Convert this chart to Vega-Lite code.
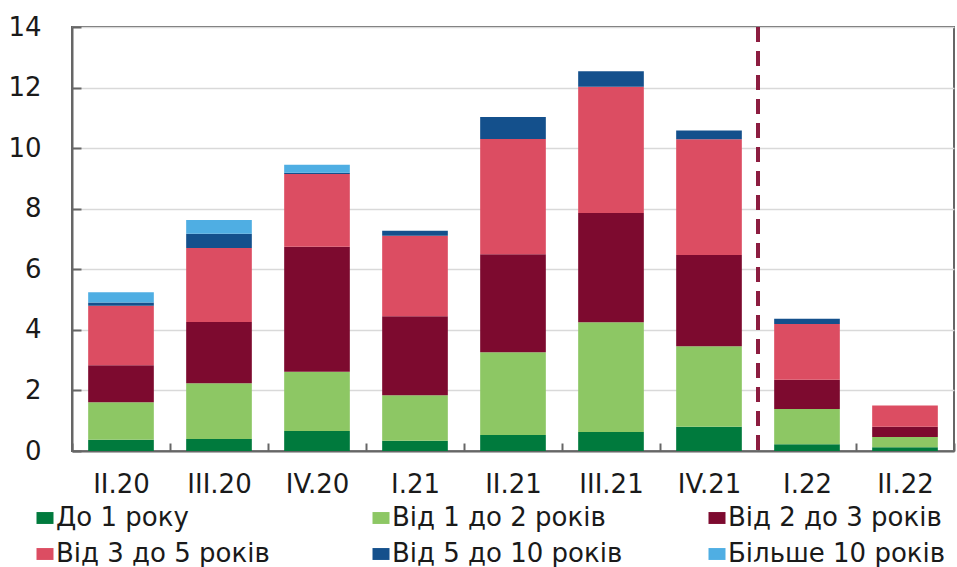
{
  "$schema": "https://vega.github.io/schema/vega-lite/v6.json",
  "width": 882,
  "height": 424,
  "autosize": {"type": "none"},
  "padding": {"left": 72, "top": 27, "right": 3, "bottom": 116},
  "background": "white",
  "config": {
    "font": "DejaVu Sans",
    "view": {"stroke": "#666666", "strokeWidth": 2},
    "axis": {
      "domainColor": "#666666",
      "domainWidth": 2,
      "tickColor": "#666666",
      "tickWidth": 2,
      "labelFont": "DejaVu Sans",
      "labelFontSize": 26,
      "labelColor": "#1a1a1a",
      "title": null
    }
  },
  "data": {
    "values": [
      {"q": "II.20", "s": "До 1 року", "k": 1, "v": 0.37},
      {"q": "II.20", "s": "Від 1 до 2 років", "k": 2, "v": 1.24},
      {"q": "II.20", "s": "Від 2 до 3 років", "k": 3, "v": 1.22},
      {"q": "II.20", "s": "Від 3 до 5 років", "k": 4, "v": 1.97},
      {"q": "II.20", "s": "Від 5 до 10 років", "k": 5, "v": 0.10},
      {"q": "II.20", "s": "Більше 10 років", "k": 6, "v": 0.34},
      {"q": "III.20", "s": "До 1 року", "k": 1, "v": 0.40},
      {"q": "III.20", "s": "Від 1 до 2 років", "k": 2, "v": 1.84},
      {"q": "III.20", "s": "Від 2 до 3 років", "k": 3, "v": 2.02},
      {"q": "III.20", "s": "Від 3 до 5 років", "k": 4, "v": 2.44},
      {"q": "III.20", "s": "Від 5 до 10 років", "k": 5, "v": 0.47},
      {"q": "III.20", "s": "Більше 10 років", "k": 6, "v": 0.46},
      {"q": "IV.20", "s": "До 1 року", "k": 1, "v": 0.66},
      {"q": "IV.20", "s": "Від 1 до 2 років", "k": 2, "v": 1.96},
      {"q": "IV.20", "s": "Від 2 до 3 років", "k": 3, "v": 4.12},
      {"q": "IV.20", "s": "Від 3 до 5 років", "k": 4, "v": 2.41},
      {"q": "IV.20", "s": "Від 5 до 10 років", "k": 5, "v": 0.04},
      {"q": "IV.20", "s": "Більше 10 років", "k": 6, "v": 0.26},
      {"q": "I.21", "s": "До 1 року", "k": 1, "v": 0.34},
      {"q": "I.21", "s": "Від 1 до 2 років", "k": 2, "v": 1.50},
      {"q": "I.21", "s": "Від 2 до 3 років", "k": 3, "v": 2.61},
      {"q": "I.21", "s": "Від 3 до 5 років", "k": 4, "v": 2.66},
      {"q": "I.21", "s": "Від 5 до 10 років", "k": 5, "v": 0.16},
      {"q": "II.21", "s": "До 1 року", "k": 1, "v": 0.53},
      {"q": "II.21", "s": "Від 1 до 2 років", "k": 2, "v": 2.73},
      {"q": "II.21", "s": "Від 2 до 3 років", "k": 3, "v": 3.24},
      {"q": "II.21", "s": "Від 3 до 5 років", "k": 4, "v": 3.80},
      {"q": "II.21", "s": "Від 5 до 10 років", "k": 5, "v": 0.73},
      {"q": "III.21", "s": "До 1 року", "k": 1, "v": 0.63},
      {"q": "III.21", "s": "Від 1 до 2 років", "k": 2, "v": 3.62},
      {"q": "III.21", "s": "Від 2 до 3 років", "k": 3, "v": 3.61},
      {"q": "III.21", "s": "Від 3 до 5 років", "k": 4, "v": 4.17},
      {"q": "III.21", "s": "Від 5 до 10 років", "k": 5, "v": 0.51},
      {"q": "IV.21", "s": "До 1 року", "k": 1, "v": 0.80},
      {"q": "IV.21", "s": "Від 1 до 2 років", "k": 2, "v": 2.66},
      {"q": "IV.21", "s": "Від 2 до 3 років", "k": 3, "v": 3.01},
      {"q": "IV.21", "s": "Від 3 до 5 років", "k": 4, "v": 3.82},
      {"q": "IV.21", "s": "Від 5 до 10 років", "k": 5, "v": 0.29},
      {"q": "I.22", "s": "До 1 року", "k": 1, "v": 0.22},
      {"q": "I.22", "s": "Від 1 до 2 років", "k": 2, "v": 1.17},
      {"q": "I.22", "s": "Від 2 до 3 років", "k": 3, "v": 0.96},
      {"q": "I.22", "s": "Від 3 до 5 років", "k": 4, "v": 1.84},
      {"q": "I.22", "s": "Від 5 до 10 років", "k": 5, "v": 0.18},
      {"q": "II.22", "s": "До 1 року", "k": 1, "v": 0.12},
      {"q": "II.22", "s": "Від 1 до 2 років", "k": 2, "v": 0.34},
      {"q": "II.22", "s": "Від 2 до 3 років", "k": 3, "v": 0.34},
      {"q": "II.22", "s": "Від 3 до 5 років", "k": 4, "v": 0.70}
    ]
  },
  "layer": [
    {
      "mark": {"type": "bar", "width": {"band": 0.67}},
      "encoding": {
        "x": {
          "field": "q",
          "type": "nominal",
          "sort": null,
          "scale": {"paddingInner": 0, "paddingOuter": 0},
          "axis": {"labelAngle": 0, "tickBand": "extent", "tickSize": -8, "labelPadding": 28, "grid": false}
        },
        "y": {
          "field": "v",
          "type": "quantitative",
          "stack": "zero",
          "scale": {"domain": [0, 14], "nice": false},
          "axis": {
            "values": [0, 2, 4, 6, 8, 10, 12, 14],
            "tickSize": -9,
            "labelPadding": 40,
            "grid": true,
            "gridColor": "#d9d9d9",
            "gridWidth": 1.5
          }
        },
        "color": {
          "field": "s",
          "type": "nominal",
          "scale": {
            "domain": ["До 1 року", "Від 1 до 2 років", "Від 2 до 3 років", "Від 3 до 5 років", "Від 5 до 10 років", "Більше 10 років"],
            "range": ["#007A3D", "#8DC764", "#7D0A2F", "#DC4D62", "#14508C", "#4FAEE3"]
          },
          "legend": {
            "title": null,
            "orient": "none",
            "legendX": -40,
            "legendY": 478,
            "direction": "horizontal",
            "columns": 3,
            "gridAlign": "all",
            "columnPadding": 81,
            "rowPadding": 10,
            "symbolType": "M-1,-0.7L1,-0.7L1,0.7L-1,0.7Z",
            "symbolSize": 289,
            "symbolStrokeWidth": 0,
            "labelFont": "DejaVu Sans",
            "labelFontSize": 26,
            "labelColor": "#1a1a1a",
            "labelOffset": -2,
            "labelLimit": 400
          }
        },
        "order": {"field": "k", "type": "quantitative"}
      }
    },
    {
      "mark": {"type": "rule", "color": "#8C1D40", "strokeWidth": 3.5, "strokeDash": [15, 9]},
      "encoding": {"x": {"datum": "I.22", "bandPosition": 0}}
    }
  ]
}
